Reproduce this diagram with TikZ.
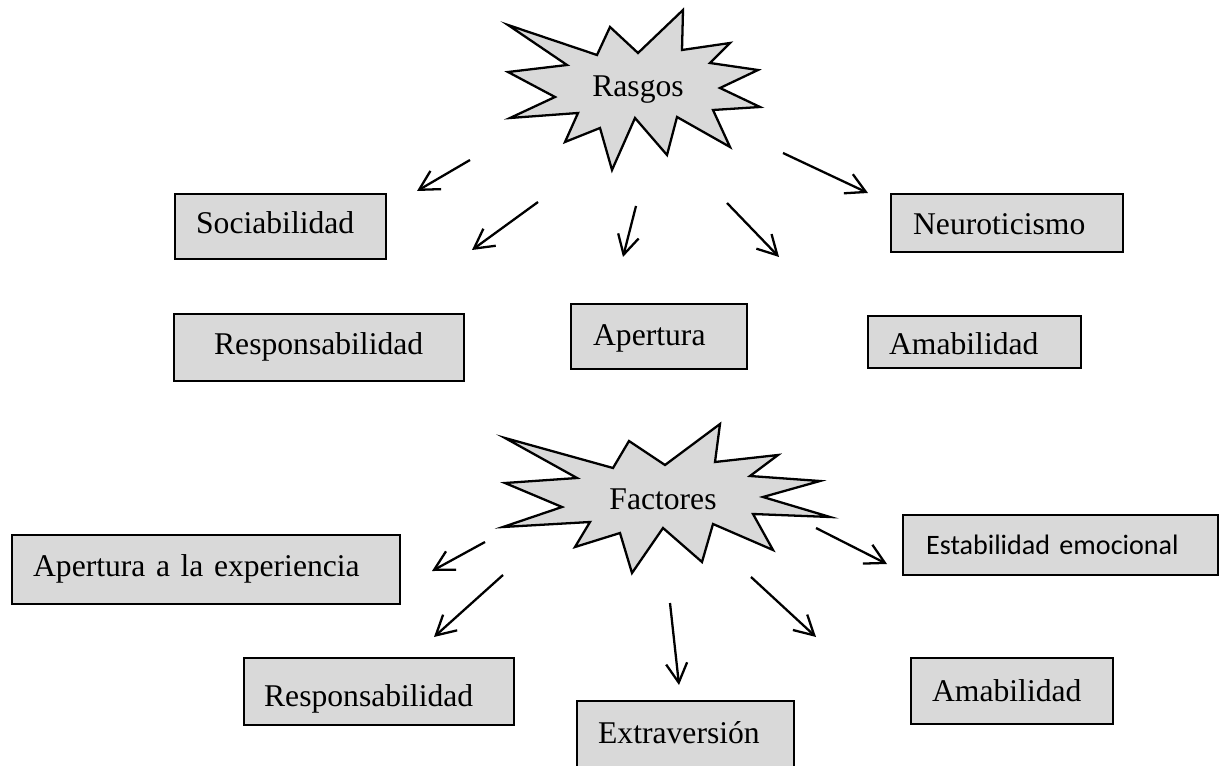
\documentclass[tikz,border=0pt]{standalone}
\usepackage{fontspec}
\setmainfont{Liberation Serif}
\newfontfamily\calibrifont{Carlito}
\usetikzlibrary{arrows.meta}
\definecolor{boxgray}{HTML}{D9D9D9}
\begin{document}
\begin{tikzpicture}[x=0.02cm,y=-0.02cm,
  box/.style={draw=black, line width=1.3pt, fill=boxgray, font=\fontsize{18}{21}\selectfont,
    align=left, anchor=north west, inner ysep=0pt},
  burst/.style={draw=black, line width=1.3pt, fill=boxgray, line join=miter},
  burstlabel/.style={font=\fontsize{18}{21}\selectfont, anchor=base, inner sep=0pt},
  arr/.style={line width=1.3pt, -{Straight Barb[length=11pt,width=12pt,line width=1.3pt]}}]
\useasboundingbox (0,0) rectangle (1219,766);
\clip (0,0) rectangle (1219,766);

% Rasgos starburst
\draw[burst] (508,25) -- (597,55) -- (610,27) -- (638,53) -- (683,10) -- (682,50) -- (730,43)
  -- (710,63) -- (758,70) -- (720,88) -- (760,107) -- (713,110) -- (730,147) -- (677,117)
  -- (667,155) -- (635,118) -- (612,170) -- (600,128) -- (565,142) -- (578,113) -- (510,118)
  -- (555,97) -- (508,72) -- (567,65) -- cycle;
\node[burstlabel] (rasgos) at (638,97) {Rasgos};

% Factores starburst
\draw[burst] (505,438) -- (613,468) -- (629,441) -- (665,465) -- (720,424) -- (715,462)
  -- (778,455) -- (750,476) -- (820,481) -- (763,497) -- (830,517) -- (753,514) -- (773,550)
  -- (713,524) -- (702,562) -- (663,528) -- (632,573) -- (620,533) -- (575,547) -- (590,522)
  -- (503,527) -- (562,507) -- (505,483) -- (577,478) -- cycle;
\node[burstlabel] (factores) at (663,509) {Factores};

% Rasgos boxes
\node[box, inner xsep=0.42cm, text width=3.38cm, text height=0.78cm, text depth=0.52cm] (soc) at (174,193) {Sociabilidad};
\node[box, inner xsep=0.80cm, text width=4.20cm, text height=0.80cm, text depth=0.54cm] (resp1) at (173,313) {Responsabilidad};
\node[box, inner xsep=0.44cm, text width=2.64cm, text height=0.82cm, text depth=0.48cm] (apert) at (570,303) {Apertura};
\node[box, inner xsep=0.44cm, text width=3.76cm, text height=0.80cm, text depth=0.36cm] (neuro) at (890,193) {Neuroticismo};
\node[box, inner xsep=0.42cm, text width=3.42cm, text height=0.76cm, text depth=0.28cm] (amab1) at (867,315) {Amabilidad};

% Factores boxes
\node[box, inner xsep=0.42cm, text width=6.92cm, text height=0.82cm, text depth=0.56cm] (aexp) at (11,534) {Apertura a la experiencia};
\node[box, inner xsep=0.40cm, text width=4.60cm, text height=0.96cm, text depth=0.38cm] (resp2) at (243,657) {Responsabilidad};
\node[box, inner xsep=0.42cm, text width=3.50cm, text height=0.84cm, text depth=0.80cm] (extra) at (576,700) {Extraversión};
\node[box, inner xsep=0.42cm, text width=3.20cm, text height=0.86cm, text depth=0.46cm] (amab2) at (910,657) {Amabilidad};
\node[box, font=\calibrifont\fontsize{16}{19}\selectfont, inner xsep=0.46cm, text width=5.38cm, text height=0.78cm, text depth=0.42cm] (estab) at (902,514) {Estabilidad emocional};

% arrow end points
\coordinate (r1s) at (470,160); \coordinate (r1e) at (417,191);
\coordinate (r2s) at (538,202); \coordinate (r2e) at (472,250);
\coordinate (r3s) at (636,206); \coordinate (r3e) at (623,257);
\coordinate (r4s) at (727,203); \coordinate (r4e) at (779,257);
\coordinate (r5s) at (783,153); \coordinate (r5e) at (868,193);
\coordinate (f1s) at (485,542); \coordinate (f1e) at (432,571);
\coordinate (f2s) at (503,575); \coordinate (f2e) at (434,637);
\coordinate (f3s) at (670,603); \coordinate (f3e) at (679,685);
\coordinate (f4s) at (751,577); \coordinate (f4e) at (816,637);
\coordinate (f5s) at (816,528); \coordinate (f5e) at (887,564);

\draw[arr] (r1s) -- (r1e);
\draw[arr] (r2s) -- (r2e);
\draw[arr] (r3s) -- (r3e);
\draw[arr] (r4s) -- (r4e);
\draw[arr] (r5s) -- (r5e);
\draw[arr] (f1s) -- (f1e);
\draw[arr] (f2s) -- (f2e);
\draw[arr] (f3s) -- (f3e);
\draw[arr] (f4s) -- (f4e);
\draw[arr] (f5s) -- (f5e);
\end{tikzpicture}
\end{document}
